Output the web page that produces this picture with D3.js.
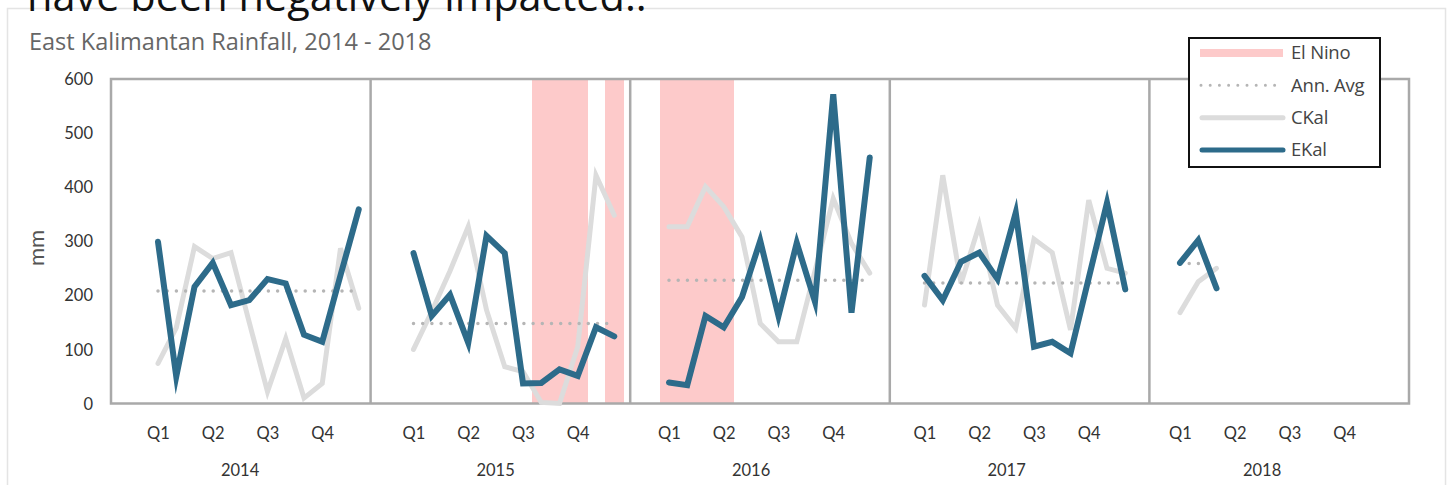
<!DOCTYPE html>
<html>
<head>
<meta charset="utf-8">
<script src="https://cdn.jsdelivr.net/npm/d3@7/dist/d3.min.js"></script>
<style>
  html, body { margin: 0; padding: 0; background: #fff; }
  svg { display: block; }
</style>
</head>
<body>
<svg id="chart" width="1453" height="485"></svg>
<script>
// ---- data -------------------------------------------------------------
const years = ["2014", "2015", "2016", "2017", "2018"];
const quarterLabels = ["Q1", "Q2", "Q3", "Q4"];
const quarterMonths = [0, 3, 6, 9];
const yTicks = [0, 100, 200, 300, 400, 500, 600];

// monthly rainfall (mm), East Kalimantan
const ekal2014 = [299, 50, 216, 260, 182, 191, 230, 222, 127, 114, 237, 359];
const ekal2015 = [278, 162, 201, 112, 310, 278, 37, 38, 63, 51, 141, 124];
const ekal2016 = [39, 34, 162, 141, 197, 301, 162, 297, 188, 572, 168, 455];
const ekal2017 = [236, 191, 262, 279, 230, 353, 105, 114, 93, 232, 371, 211];
const ekal2018 = [260, 302, 213];

// monthly rainfall (mm), Central Kalimantan
const ckal2014 = [74, 140, 290, 268, 279, 150, 22, 120, 10, 37, 287, 176];
const ckal2015 = [100, 170, 245, 327, 173, 68, 59, 2, 0, 105, 422, 348];
const ckal2016 = [327, 327, 401, 364, 308, 148, 114, 114, 245, 379, 296, 241];
const ckal2017 = [182, 422, 222, 330, 182, 139, 304, 279, 136, 376, 250, 241];
const ckal2018 = [168, 225, 250];

// annual average of East Kalimantan rainfall
const annualAvg = [208, 148, 228, 223, 259];

// El Nino months (year index, month index)
const elNinoYear  = [1, 1, 1, 1, 2, 2, 2, 2];
const elNinoMonth = [7, 8, 9, 11, 0, 1, 2, 3];

const ekal = [ekal2014, ekal2015, ekal2016, ekal2017, ekal2018];
const ckal = [ckal2014, ckal2015, ckal2016, ckal2017, ckal2018];

// ---- layout -----------------------------------------------------------
const svg = d3.select("#chart");
const plot = { left: 111, right: 1409, top: 79, bottom: 403.5 };
const slotsPerYear = 14;   // 12 months + gap between years
const firstMonthX = 158;
const slotW = 18.25;

const y = d3.scaleLinear().domain([0, 600]).range([plot.bottom, plot.top]);
// x position of a month measured in slots (year * 14 + month)
const x = d3.scaleLinear()
  .domain([0, slotsPerYear * years.length])
  .range([firstMonthX, firstMonthX + slotW * slotsPerYear * years.length]);
const slot = (yi, m) => yi * slotsPerYear + m;
// panel frames
const panelX = d3.scaleLinear().domain([0, years.length]).range([plot.left, plot.right]);

const FONT = "Lato, 'Open Sans', sans-serif";
const PINK = "#fdcaca";

// card
svg.append("rect")
  .attr("x", 7.5).attr("y", 8.5)
  .attr("width", 1438).attr("height", 500)
  .attr("fill", "#fff")
  .attr("stroke", "#e4e4e4").attr("stroke-width", 1.5);

// heading text above the card
svg.append("text")
  .attr("x", 27).attr("y", 11)
  .attr("font-family", "'Open Sans', sans-serif")
  .attr("font-size", 41.5)
  .attr("fill", "#111")
  .text("have been negatively impacted..");

// chart title
svg.append("text")
  .attr("x", 29).attr("y", 50)
  .attr("font-family", "'Open Sans', sans-serif")
  .attr("font-size", 23.5)
  .attr("fill", "#666")
  .text("East Kalimantan Rainfall, 2014 - 2018");

// El Nino shading
const g = svg.append("g");
g.selectAll("rect.elnino")
  .data(elNinoYear.map((yi, i) => ({ yi, m: elNinoMonth[i] })))
  .join("rect")
  .attr("class", "elnino")
  .attr("x", d => x(slot(d.yi, d.m - 0.5)))
  .attr("width", d => x(slot(d.yi, d.m + 0.5)) - x(slot(d.yi, d.m - 0.5)) + 1)
  .attr("y", y(600))
  .attr("height", y(0) - y(600))
  .attr("shape-rendering", "crispEdges")
  .attr("fill", PINK);

// frame and panel dividers
g.append("rect")
  .attr("x", plot.left).attr("y", plot.top)
  .attr("width", plot.right - plot.left).attr("height", plot.bottom - plot.top)
  .attr("fill", "none").attr("stroke", "#a9a9a9").attr("stroke-width", 2.5);
g.selectAll("line.divider")
  .data(d3.range(1, years.length))
  .join("line")
  .attr("class", "divider")
  .attr("x1", d => panelX(d)).attr("x2", d => panelX(d))
  .attr("y1", plot.top).attr("y2", plot.bottom)
  .attr("stroke", "#a9a9a9").attr("stroke-width", 2.5);

// y axis
const yAxis = d3.axisLeft(y).tickValues(yTicks).tickSize(0).tickPadding(0);
const ya = svg.append("g").attr("transform", "translate(93,0)").call(yAxis);
ya.select(".domain").remove();
ya.selectAll("text")
  .attr("font-family", FONT).attr("font-size", 16.5).attr("fill", "#333")
  .attr("dy", "0.34em");

svg.append("text")
  .attr("transform", "translate(44,248) rotate(-90)")
  .attr("text-anchor", "middle")
  .attr("font-family", FONT).attr("font-size", 22)
  .attr("fill", "#555")
  .text("mm");

// x axis: quarter labels and year labels
years.forEach((yr, yi) => {
  const qa = d3.axisBottom(x)
    .tickValues(quarterMonths.map(m => slot(yi, m)))
    .tickFormat((d, i) => quarterLabels[i])
    .tickSize(0).tickPadding(0);
  const gq = svg.append("g").attr("transform", "translate(0,433)").call(qa);
  gq.select(".domain").remove();
  gq.selectAll("text")
    .attr("font-family", FONT).attr("font-size", 16.5).attr("fill", "#333")
    .attr("dy", "0.35em");

  svg.append("text")
    .attr("x", x(slot(yi, 4.5))).attr("y", 470)
    .attr("dy", "0.35em")
    .attr("text-anchor", "middle")
    .attr("font-family", FONT).attr("font-size", 16.5).attr("fill", "#333")
    .text(yr);
});

// series lines, one segment per year
const line = d3.line().x(d => x(d.s)).y(d => y(d.v));

years.forEach((yr, yi) => {
  const cData = ckal[yi].map((v, m) => ({ s: slot(yi, m), v }));
  g.append("path")
    .attr("d", line(cData))
    .attr("fill", "none").attr("stroke", "#dcdcdc")
    .attr("stroke-width", 5).attr("stroke-linecap", "round").attr("stroke-linejoin", "miter");
});

years.forEach((yr, yi) => {
  const n = ekal[yi].length;
  const aData = [{ s: slot(yi, 0), v: annualAvg[yi] }, { s: slot(yi, n - 1), v: annualAvg[yi] }];
  g.append("path")
    .attr("d", line(aData))
    .attr("fill", "none").attr("stroke", "#b5b5b5")
    .attr("stroke-width", 3.5).attr("stroke-linecap", "round")
    .attr("stroke-dasharray", "0 9.2");
});

years.forEach((yr, yi) => {
  const eData = ekal[yi].map((v, m) => ({ s: slot(yi, m), v }));
  g.append("path")
    .attr("d", line(eData))
    .attr("fill", "none").attr("stroke", "#2d6b8a")
    .attr("stroke-width", 6).attr("stroke-linecap", "round").attr("stroke-linejoin", "miter")
    .attr("stroke-miterlimit", 6);
});

// legend
const lg = svg.append("g");
lg.append("rect")
  .attr("x", 1189).attr("y", 38).attr("width", 191).attr("height", 129)
  .attr("fill", "#fff").attr("stroke", "#111").attr("stroke-width", 2);
const legendItems = ["El Nino", "Ann. Avg", "CKal", "EKal"];
const ly = d3.scalePoint().domain(legendItems).range([53, 150]);
const sx0 = 1200, sx1 = 1283;
lg.append("rect")
  .attr("x", sx0).attr("y", ly("El Nino") - 4).attr("width", sx1 - sx0).attr("height", 8)
  .attr("fill", PINK);
lg.append("line")
  .attr("x1", sx0 + 1).attr("x2", sx1).attr("y1", ly("Ann. Avg")).attr("y2", ly("Ann. Avg"))
  .attr("stroke", "#b5b5b5").attr("stroke-width", 3).attr("stroke-linecap", "round")
  .attr("stroke-dasharray", "0 9.2");
lg.append("line")
  .attr("x1", sx0 + 2).attr("x2", sx1).attr("y1", ly("CKal")).attr("y2", ly("CKal"))
  .attr("stroke", "#dcdcdc").attr("stroke-width", 5).attr("stroke-linecap", "round");
lg.append("line")
  .attr("x1", sx0 + 2).attr("x2", sx1).attr("y1", ly("EKal")).attr("y2", ly("EKal"))
  .attr("stroke", "#2d6b8a").attr("stroke-width", 5).attr("stroke-linecap", "round");
lg.selectAll("text.leg")
  .data(legendItems)
  .join("text")
  .attr("class", "leg")
  .attr("x", 1291).attr("y", d => ly(d)).attr("dy", "0.35em")
  .attr("font-family", "'Open Sans', sans-serif").attr("font-size", 18.5)
  .attr("letter-spacing", -0.2)
  .attr("fill", "#444")
  .text(d => d);
</script>
</body>
</html>
